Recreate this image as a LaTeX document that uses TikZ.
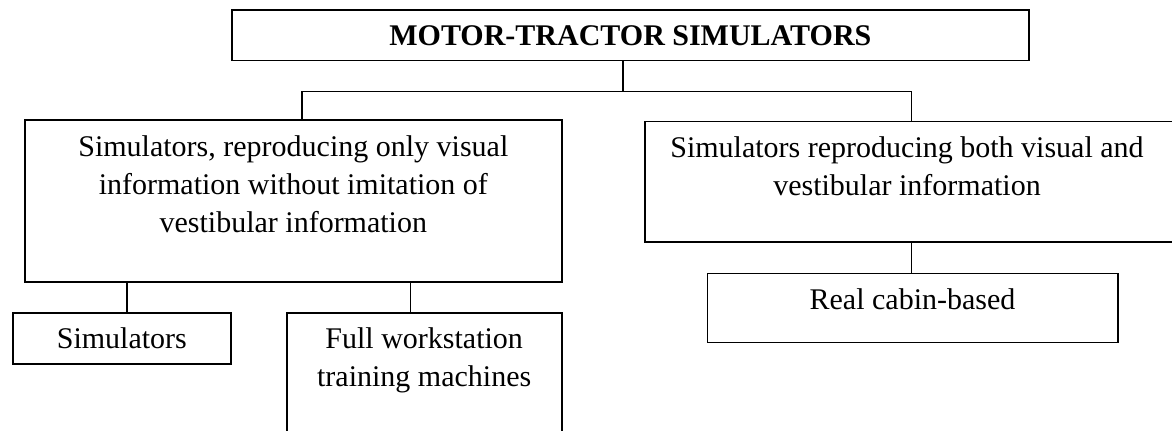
\documentclass[tikz,border=0pt]{standalone}
\usepackage{fontspec}
\setmainfont{Liberation Serif}
\begin{document}
\begin{tikzpicture}[x=0.5pt,y=-0.5pt,
  bx/.style={draw=black, line width=0.8pt, rectangle, inner sep=0pt},
  txt/.style={inner sep=0pt, anchor=base, font=\fontsize{15}{19}\selectfont},
  conn/.style={draw=black, line width=0.8pt}]
\useasboundingbox (0,0) rectangle (1172,431);
% boxes
\node[bx, minimum width=398.65pt, minimum height=25.35pt] (T) at (630.35,35.35) {};
\node[bx, minimum width=268.35pt, minimum height=81.15pt] (L) at (293.35,201.15) {};
\node[bx, minimum width=265pt, minimum height=60.15pt] (R) at (910,181.85) {};
\node[bx, minimum width=205.2pt, minimum height=34.6pt] (C) at (912.5,308.1) {};
\node[bx, minimum width=109.15pt, minimum height=25.5pt] (S) at (121.85,338.8) {};
\node[bx, minimum width=137.5pt, minimum height=60.35pt] (F) at (424.2,373.65) {};
% texts
\node[txt] (tT) at (630.35,46) {\bfseries MOTOR-TRACTOR SIMULATORS};
\node[txt] (tL) at (293.35,157) {\begin{tabular}[t]{@{}c@{}}Simulators, reproducing only visual\\ information without imitation of\\ vestibular information\end{tabular}};
\node[txt] (tR) at (907,157.5) {\begin{tabular}[t]{@{}c@{}}Simulators reproducing both visual and\\ vestibular information\end{tabular}};
\node[txt] (tC) at (912.5,309.5) {Real cabin-based};
\node[txt] (tS) at (121.85,349) {Simulators};
\node[txt] (tF) at (424.2,348.5) {\begin{tabular}[t]{@{}c@{}}Full workstation\\ training machines\end{tabular}};
% junction coordinates
\coordinate (jt) at (622.7,91.7);
\coordinate (hl) at (301.7,91.7);
\coordinate (hr) at (911.5,91.7);
\coordinate (js) at (127,0);
\coordinate (jf) at (410.5,0);
\coordinate (jc) at (911.5,0);
% connectors
\draw[conn] (T.south -| jt) -- (jt);
\draw[conn] (L.north -| hl) -- (hl) -- (hr) -- (R.north -| hr);
\draw[conn] (L.south -| js) -- (S.north -| js);
\draw[conn] (L.south -| jf) -- (F.north -| jf);
\draw[conn] (R.south -| jc) -- (C.north -| jc);
\end{tikzpicture}
\end{document}
